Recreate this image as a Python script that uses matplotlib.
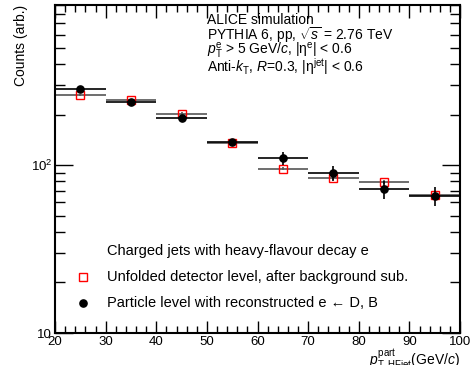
import matplotlib
matplotlib.use("Agg")
import matplotlib.pyplot as plt
import numpy as np
from matplotlib.ticker import FixedLocator, LogLocator, NullFormatter, FixedFormatter

plt.rcParams['font.family'] = ['Liberation Sans', 'DejaVu Sans']
plt.rcParams['mathtext.fontset'] = 'custom'
plt.rcParams['mathtext.rm'] = 'Liberation Sans'
plt.rcParams['mathtext.it'] = 'Liberation Sans:italic'
plt.rcParams['mathtext.bf'] = 'Liberation Sans:bold'

# Data
bin_edges = [20, 30, 40, 50, 60, 70, 80, 90, 100]
particle_level = [283, 238, 190, 138, 110, 90, 72, 65.5]
particle_err = [8, 8, 8, 5, 10, 9, 9, 8.5]
unfolded = [261, 243, 203, 135, 95, 84, 79.5, 66]
unfolded_err = [3, 3, 3, 2, 2, 2, 2, 2]

edges = np.array(bin_edges, dtype=float)
centers = 0.5 * (edges[:-1] + edges[1:])
halfw = 0.5 * (edges[1:] - edges[:-1])

fig = plt.figure(figsize=(4.70, 3.65), dpi=100)
ax = fig.add_axes([55/470, 1 - 333/365, (460-55)/470, (333-5)/365])

ax.errorbar(centers, unfolded, xerr=halfw, yerr=unfolded_err, fmt='none',
            ecolor='#555555', elinewidth=1.2, capsize=0, zorder=2)
ax.plot(centers, unfolded, 's', ms=5.5, mfc='none', mec='red', mew=1.0, ls='none', zorder=3)
ax.errorbar(centers, particle_level, xerr=halfw, yerr=particle_err, fmt='o', ms=5.2,
            color='black', ecolor='black', elinewidth=1.2, capsize=0, zorder=4)

ax.set_yscale('log')
ax.set_xlim(20, 100)
ax.set_ylim(10, 900)

ax.xaxis.set_major_locator(FixedLocator([20, 30, 40, 50, 60, 70, 80, 90, 100]))
ax.xaxis.set_minor_locator(FixedLocator(np.arange(20, 101, 2)))
ax.yaxis.set_major_locator(FixedLocator([10, 100]))
ax.yaxis.set_major_formatter(FixedFormatter(['10', r'$10^2$']))
ax.yaxis.set_minor_locator(LogLocator(base=10, subs=np.arange(2, 10)))
ax.yaxis.set_minor_formatter(NullFormatter())

ax.tick_params(which='both', direction='in', top=True, right=True, width=1.0,
               labelsize=9.5, colors='black')
ax.tick_params(axis='x', which='major', length=9, pad=2)
ax.tick_params(axis='x', which='minor', length=5)
ax.tick_params(axis='y', which='major', length=13, pad=2)
ax.tick_params(axis='y', which='minor', length=7)
for s in ax.spines.values():
    s.set_linewidth(1.5)

ax.set_ylabel('Counts (arb.)', fontsize=10, loc='top', labelpad=2)
ax.set_xlabel(r'$p_{\mathrm{T,HFjet}}^{\mathrm{part}}$(GeV/$c$)', fontsize=10, loc='right', labelpad=0)

fs = 10
x0 = (207-55)/405
def ypos(py):
    return 1 - (py-5)/328
ax.text(x0, ypos(20), 'ALICE simulation', transform=ax.transAxes, fontsize=fs, va='center')
ax.text(x0, ypos(35), r'PYTHIA 6, pp, $\sqrt{s}$ = 2.76 TeV', transform=ax.transAxes, fontsize=fs, va='center')
ax.text(x0, ypos(51), r'$p_{\mathrm{T}}^{\mathrm{e}}$ > 5 GeV/$c$, |$\mathrm{\eta}^{\mathrm{e}}$| < 0.6', transform=ax.transAxes, fontsize=fs, va='center')
ax.text(x0, ypos(67), r'Anti-$k_{\mathrm{T}}$, $R$=0.3, |$\mathrm{\eta}^{\mathrm{jet}}$| < 0.6', transform=ax.transAxes, fontsize=fs, va='center')

# legend
fl = 10.5
lx_m = (83-55)/405
lx_t = (107-55)/405
rows = [251, 277, 303]
ax.text(lx_t, ypos(rows[0]), 'Charged jets with heavy-flavour decay e', transform=ax.transAxes, fontsize=fl, va='center')
ax.plot([lx_m], [ypos(rows[1])], 's', ms=5.5, mfc='none', mec='red', mew=1.0, transform=ax.transAxes, clip_on=False)
ax.text(lx_t, ypos(rows[1]), 'Unfolded detector level, after background sub.', transform=ax.transAxes, fontsize=fl, va='center')
ax.plot([lx_m], [ypos(rows[2])], 'o', ms=5.2, color='black', transform=ax.transAxes, clip_on=False)
ax.text(lx_t, ypos(rows[2]), 'Particle level with reconstructed e \u2190 D, B', transform=ax.transAxes, fontsize=fl, va='center')

fig.savefig('out.png', dpi=100)
